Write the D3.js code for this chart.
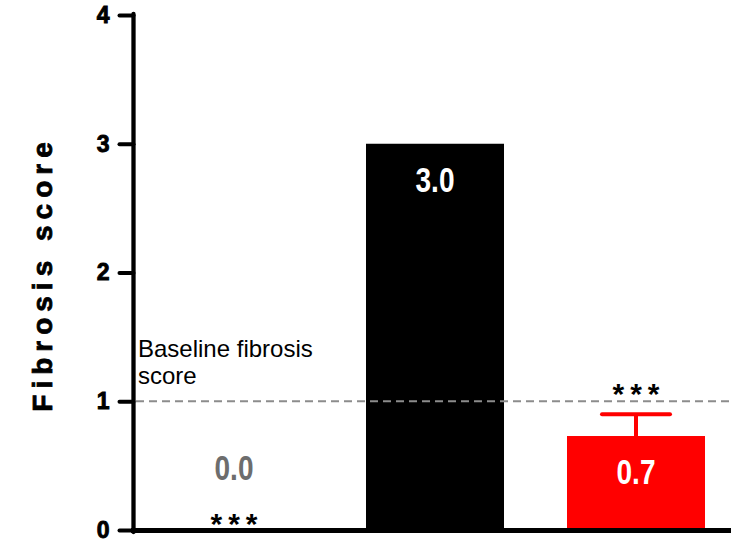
<!DOCTYPE html>
<html>
<head>
<meta charset="utf-8">
<script src="https://cdn.jsdelivr.net/npm/d3@7/dist/d3.min.js"></script>
<style>
  html, body { margin: 0; padding: 0; background: #fff; }
  svg { display: block; font-family: "Liberation Sans", Arial, sans-serif; }
</style>
</head>
<body>
<svg id="chart" width="731" height="545"></svg>
<script>
// Fibrosis score per group
const groups = ["Group A", "Group B", "Group C"];
const means = [0.0, 3.0, 0.73];
const errors = [0, 0, 0.17];
const valueLabels = ["0.0", "3.0", "0.7"];
const barColors = ["#6d6d6d", "#000000", "#ff0000"];
const labelColors = ["#6d6d6d", "#ffffff", "#ffffff"];
const significance = ["***", "", "***"];
const yTicks = [0, 1, 2, 3, 4];
const baselineValue = 1;
const baselineText = ["Baseline fibrosis", "score"];

const svg = d3.select("#chart");

const y = d3.scaleLinear().domain([0, 4]).range([530, 15]);
const x = d3.scaleBand()
  .domain(groups)
  .range([133.5, 736.5])
  .paddingInner(0.3134)
  .paddingOuter(0.1567);

// Bars
svg.append("g").selectAll("rect")
  .data(groups)
  .join("rect")
  .attr("x", d => x(d))
  .attr("width", x.bandwidth())
  .attr("y", (d, i) => y(means[i]))
  .attr("height", (d, i) => y(0) - y(means[i]))
  .attr("fill", (d, i) => barColors[i]);

// Error bars (upper only)
const eb = svg.append("g");
groups.forEach((g, i) => {
  if (!errors[i]) return;
  const cx = x(g) + x.bandwidth() / 2;
  const top = y(means[i] + errors[i]);
  eb.append("line")
    .attr("x1", cx).attr("x2", cx)
    .attr("y1", y(means[i])).attr("y2", top)
    .attr("stroke", barColors[i]).attr("stroke-width", 4);
  eb.append("line")
    .attr("x1", cx - 34).attr("x2", cx + 34)
    .attr("y1", top).attr("y2", top)
    .attr("stroke", barColors[i]).attr("stroke-width", 4)
    .attr("stroke-linecap", "round");
});

// Baseline reference line
svg.append("line")
  .attr("x1", 136).attr("x2", 731)
  .attr("y1", y(baselineValue)).attr("y2", y(baselineValue))
  .attr("stroke", "#8c8c8c")
  .attr("stroke-width", 2)
  .attr("stroke-dasharray", "8,5");

svg.append("text")
  .attr("x", 138)
  .attr("y", 357)
  .attr("font-size", 24)
  .attr("fill", "#000")
  .selectAll("tspan")
  .data(baselineText)
  .join("tspan")
  .attr("x", 138)
  .attr("dy", (d, i) => i === 0 ? 0 : 27)
  .text(d => d);

// Value labels
groups.forEach((g, i) => {
  const cx = x(g) + x.bandwidth() / 2;
  const ly = means[i] > 0 ? y(means[i]) + 48 : y(0) - 50;
  svg.append("text")
    .attr("transform", `translate(${cx},${ly}) scale(0.8,1)`)
    .attr("text-anchor", "middle")
    .attr("font-size", 35)
    .attr("font-weight", "bold")
    .attr("fill", labelColors[i])
    .text(valueLabels[i]);
});

// Significance marks
groups.forEach((g, i) => {
  if (!significance[i]) return;
  const cx = x(g) + x.bandwidth() / 2;
  const sy = means[i] > 0 ? y(means[i] + errors[i]) - 10.5 : y(0) + 3.5;
  svg.append("text")
    .attr("x", cx + 3)
    .attr("y", sy)
    .attr("text-anchor", "middle")
    .attr("font-size", 30)
    .attr("font-weight", "bold")
    .attr("letter-spacing", 6)
    .attr("fill", "#000")
    .text(significance[i]);
});

// Y axis
const yAxis = d3.axisLeft(y)
  .tickValues(yTicks)
  .tickFormat(d3.format("d"))
  .tickSize(14)
  .tickPadding(10);
const ag = svg.append("g")
  .attr("transform", "translate(133.5,0)")
  .call(yAxis);
ag.select(".domain").remove();
ag.selectAll(".tick line")
  .attr("stroke", "#000").attr("stroke-width", 4).attr("stroke-linecap", "round");
ag.selectAll(".tick text")
  .attr("font-family", "Liberation Sans, Arial, sans-serif")
  .attr("font-size", 23)
  .attr("font-weight", "bold")
  .attr("fill", "#000")
  .attr("stroke", "#000")
  .attr("stroke-width", 0.9);

svg.append("line")
  .attr("x1", 133.5).attr("x2", 133.5)
  .attr("y1", y(4) - 1).attr("y2", y(0) + 2)
  .attr("stroke", "#000").attr("stroke-width", 4.3)
  .attr("stroke-linecap", "round");

// X axis baseline
svg.append("line")
  .attr("x1", 131).attr("x2", 731)
  .attr("y1", y(0) + 0.5).attr("y2", y(0) + 0.5)
  .attr("stroke", "#000").attr("stroke-width", 5);

// Axis title
svg.append("text")
  .attr("transform", `translate(52,${(138 + 410) / 2}) rotate(-90)`)
  .attr("text-anchor", "middle")
  .attr("font-size", 28)
  .attr("font-weight", "bold")
  .attr("letter-spacing", 6)
  .attr("fill", "#000")
  .attr("stroke", "#000")
  .attr("stroke-width", 0.8)
  .text("Fibrosis score");
</script>
</body>
</html>
